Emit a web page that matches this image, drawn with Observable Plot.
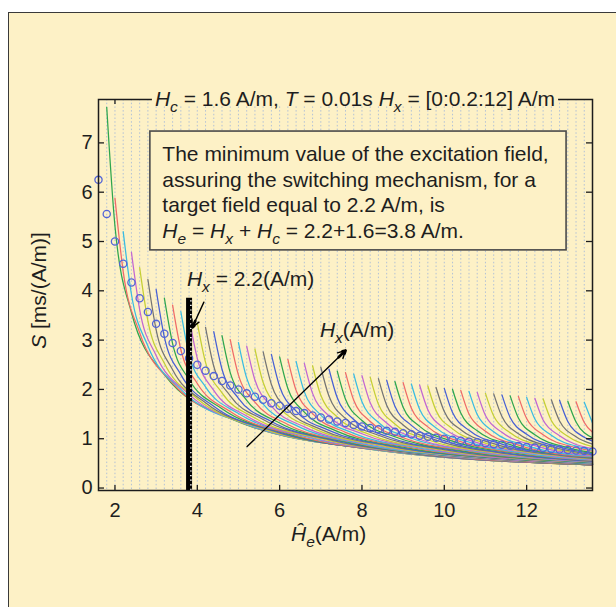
<!DOCTYPE html>
<html>
<head>
<meta charset="utf-8">
<script src="https://cdn.jsdelivr.net/npm/d3@7"></script>
<script src="https://cdn.jsdelivr.net/npm/@observablehq/plot@0.6"></script>
<style>
  html, body { margin: 0; padding: 0; background: #ffffff; overflow: hidden; }
  #panel { position: absolute; left: 8px; top: 12px; width: 700px; height: 700px;
           background: #fdf1c6; border: 1px solid #3a3a3a; }
  #chart { position: absolute; left: 0; top: 0; }
</style>
</head>
<body>
<div id="panel"></div>
<div id="chart"></div>
<script>
// ---- parameters of the simulated sensor ----
const HC = 1.6;            // coercive field, A/m
const HX_TARGET = 2.2;     // target field marked by the bar, A/m
const BAR_TOP = 3.85;      // height of the marker bar, ms/(A/m)

// target fields Hx = [0:0.2:12] A/m (one curve each; Hx = 12 lies beyond the axis)
const HX = [0, 0.2, 0.4, 0.6, 0.8, 1, 1.2, 1.4, 1.6, 1.8, 2, 2.2, 2.4, 2.6, 2.8, 3, 3.2, 3.4, 3.6, 3.8,
            4, 4.2, 4.4, 4.6, 4.8, 5, 5.2, 5.4, 5.6, 5.8, 6, 6.2, 6.4, 6.6, 6.8, 7, 7.2, 7.4, 7.6, 7.8,
            8, 8.2, 8.4, 8.6, 8.8, 9, 9.2, 9.4, 9.6, 9.8, 10, 10.2, 10.4, 10.6, 10.8, 11, 11.2, 11.4, 11.6, 11.8];

// sensitivity S of each curve sampled at He = Hx + Hc + offset
const OFFSETS = [0.2, 0.4, 0.8, 1.6, 3.2, 6.4];
const S_D02 = [7.72, 5.88, 5.20, 4.78, 4.47, 4.23, 4.03, 3.85, 3.71, 3.58,
               3.46, 3.35, 3.26, 3.17, 3.09, 3.01, 2.95, 2.88, 2.82, 2.76,
               2.71, 2.66, 2.61, 2.57, 2.53, 2.48, 2.45, 2.41, 2.37, 2.34,
               2.31, 2.28, 2.25, 2.22, 2.19, 2.16, 2.14, 2.11, 2.09, 2.07,
               2.04, 2.02, 2.00, 1.98, 1.96, 1.94, 1.92, 1.91, 1.89, 1.87,
               1.86, 1.84, 1.82, 1.81, 1.79, 1.78, 1.76, 1.75, 1.74, 1.72];
const S_D04 = [5.31, 4.39, 3.93, 3.62, 3.39, 3.21, 3.06, 2.93, 2.81, 2.71,
               2.63, 2.55, 2.47, 2.41, 2.34, 2.29, 2.23, 2.19, 2.14, 2.10,
               2.06, 2.02, 1.98, 1.95, 1.92, 1.88, 1.86, 1.83, 1.80, 1.78,
               1.75, 1.73, 1.70, 1.68, 1.66, 1.64, 1.62, 1.60, 1.59, 1.57,
               1.55, 1.53, 1.52, 1.50, 1.49, 1.47, 1.46, 1.45, 1.43, 1.42,
               1.41, 1.40, 1.38, 1.37, 1.36, 1.35, 1.34, 1.33, 1.32];
const S_D08 = [3.56, 3.15, 2.88, 2.69, 2.53, 2.40, 2.30, 2.20, 2.12, 2.05,
               1.98, 1.93, 1.87, 1.82, 1.78, 1.74, 1.70, 1.66, 1.63, 1.59,
               1.56, 1.54, 1.51, 1.48, 1.46, 1.44, 1.41, 1.39, 1.37, 1.35,
               1.33, 1.32, 1.30, 1.28, 1.27, 1.25, 1.24, 1.22, 1.21, 1.20,
               1.18, 1.17, 1.16, 1.15, 1.14, 1.13, 1.12, 1.10, 1.09, 1.08,
               1.08, 1.07, 1.06, 1.05, 1.04, 1.03, 1.02];
const S_D16 = [2.30, 2.13, 2.00, 1.90, 1.81, 1.73, 1.66, 1.61, 1.55, 1.51,
               1.46, 1.42, 1.39, 1.35, 1.32, 1.29, 1.27, 1.24, 1.22, 1.19,
               1.17, 1.15, 1.13, 1.11, 1.10, 1.08, 1.07, 1.05, 1.04, 1.02,
               1.01, 0.99, 0.98, 0.97, 0.96, 0.95, 0.94, 0.93, 0.92, 0.91,
               0.90, 0.89, 0.88, 0.87, 0.86, 0.86, 0.85, 0.84, 0.83, 0.82,
               0.82, 0.81, 0.80];
const S_D32 = [1.41, 1.35, 1.29, 1.25, 1.20, 1.17, 1.13, 1.10, 1.07, 1.05,
               1.02, 1.00, 0.98, 0.96, 0.94, 0.92, 0.90, 0.89, 0.87, 0.86,
               0.84, 0.83, 0.82, 0.81, 0.80, 0.79, 0.78, 0.77, 0.76, 0.75,
               0.74, 0.73, 0.72, 0.71, 0.70, 0.70, 0.69, 0.68, 0.68, 0.67,
               0.66, 0.66, 0.65, 0.64, 0.64];
const S_D64 = [0.81, 0.79, 0.77, 0.76, 0.74, 0.72, 0.71, 0.70, 0.68, 0.67,
               0.66, 0.65, 0.64, 0.63, 0.62, 0.61, 0.60, 0.59, 0.59, 0.58,
               0.57, 0.56, 0.56, 0.55, 0.54, 0.54, 0.53, 0.53, 0.52];
// value at the right end of the axis (null where the last sample already sits there)
const HE_END = 13.6;
const S_END = [0.47, 0.47, 0.47, 0.47, 0.47, 0.47, 0.47, 0.47, 0.47, 0.48,
               0.48, 0.48, 0.48, 0.48, 0.48, 0.48, 0.49, 0.49, 0.49, 0.49,
               0.49, 0.50, 0.50, 0.50, 0.51, 0.51, 0.51, 0.52, null, 0.53,
               0.53, 0.53, 0.54, 0.54, 0.55, 0.56, 0.56, 0.57, 0.58, 0.59,
               0.60, 0.61, 0.62, 0.63, null, 0.65, 0.67, 0.68, 0.70, 0.72,
               0.75, 0.77, null, 0.84, 0.89, 0.95, null, 1.13, null, null];

// reference sensitivity (circles) on the He grid
const HE_GRID = [1.6, 1.8, 2, 2.2, 2.4, 2.6, 2.8, 3, 3.2, 3.4, 3.6, 3.8, 4, 4.2, 4.4, 4.6, 4.8, 5, 5.2, 5.4,
                 5.6, 5.8, 6, 6.2, 6.4, 6.6, 6.8, 7, 7.2, 7.4, 7.6, 7.8, 8, 8.2, 8.4, 8.6, 8.8, 9, 9.2, 9.4,
                 9.6, 9.8, 10, 10.2, 10.4, 10.6, 10.8, 11, 11.2, 11.4, 11.6, 11.8, 12, 12.2, 12.4, 12.6, 12.8,
                 13, 13.2, 13.4, 13.6];
const S_CIRC = [6.25, 5.56, 5.00, 4.55, 4.17, 3.85, 3.57, 3.33, 3.13, 2.94,
                2.78, 2.63, 2.50, 2.38, 2.27, 2.17, 2.08, 2.00, 1.92, 1.85,
                1.79, 1.72, 1.67, 1.61, 1.56, 1.52, 1.47, 1.43, 1.39, 1.35,
                1.32, 1.28, 1.25, 1.22, 1.19, 1.16, 1.14, 1.11, 1.09, 1.06,
                1.04, 1.02, 1.00, 0.98, 0.96, 0.94, 0.93, 0.91, 0.89, 0.88,
                0.86, 0.85, 0.83, 0.82, 0.81, 0.79, 0.78, 0.77, 0.76, 0.75, 0.74];

const X_TICKS = [2, 4, 6, 8, 10, 12];
const Y_TICKS = [0, 1, 2, 3, 4, 5, 6, 7];

// annotation geometry (data units)
const ARROW_BAR = {x1: 4.16, y1: 3.77, x2: 3.88, y2: 3.26};
const ARROW_HX  = {x1: 5.21, y1: 0.84, x2: 7.60, y2: 2.79};
const NOTE_BOX  = {x1: 2.86, x2: 12.97, y1: 4.82, y2: 7.23};
const LABEL_BAR = {x: 3.76, y: 4.09};
const LABEL_HX  = {x: 6.99, y: 3.05};

// ---- styling ----
const FONT = "'Liberation Sans', Arial, Helvetica, sans-serif";
const CREAM = "#fdf1c6";
const INK = "#1e1e1e";
const LINE_COLORS = ["#2ea64e", "#ef6a68", "#38bce2", "#c266d2", "#c5cf34", "#747474", "#4760d4"];
const X_DOMAIN = [1.6, 13.6];
const Y_DOMAIN = [-0.05, 7.88];

// long table of curve samples
const S_BY_OFFSET = [S_D02, S_D04, S_D08, S_D16, S_D32, S_D64];
const curves = [];
HX.forEach((hx, k) => {
  S_BY_OFFSET.forEach((arr, j) => {
    if (k < arr.length) curves.push({k, he: +(HC + hx + OFFSETS[j]).toFixed(2), s: arr[k]});
  });
  if (S_END[k] != null) curves.push({k, he: HE_END, s: S_END[k]});
});
const circles = HE_GRID.map((he, i) => ({he, s: S_CIRC[i]}));

// short piece at the tip of each arrow, drawn heavier
const tip = (a, f) => ({x1: a.x2 - f * (a.x2 - a.x1), y1: a.y2 - f * (a.y2 - a.y1), x2: a.x2, y2: a.y2});

const W = 616, H = 607, ML = 98, MR = 24, MT = 99, MB = 117;
const innerW = W - ML - MR, innerH = H - MT - MB;

const plot = Plot.plot({
  width: W, height: H,
  marginLeft: ML, marginRight: MR, marginTop: MT, marginBottom: MB,
  style: {background: "transparent", fontFamily: FONT, fontSize: "20px", color: INK, overflow: "visible"},
  x: {domain: X_DOMAIN},
  y: {domain: Y_DOMAIN},
  marks: [
    // faint dotted columns on the He grid
    Plot.ruleX(HE_GRID, {stroke: "#aebfd8", strokeWidth: 1, strokeDasharray: "1.5,2.2", strokeOpacity: 0.95}),
    Plot.rect([NOTE_BOX], {x1: "x1", x2: "x2", y1: "y1", y2: "y2", fill: CREAM}),
    // S(He) for every Hx
    Plot.line(curves, {x: "he", y: "s", z: "k", stroke: d => LINE_COLORS[d.k % LINE_COLORS.length],
                       strokeWidth: 1.25, curve: "monotone-x"}),
    // reference curve as open circles
    Plot.dot(circles, {x: "he", y: "s", r: 3.6, stroke: "#5264d8", strokeWidth: 1.3, fill: "none"}),
    // minimum excitation He = Hx + Hc
    Plot.ruleX([HC + HX_TARGET], {y1: Y_DOMAIN[0], y2: BAR_TOP, stroke: "#000", strokeWidth: 6}),
    Plot.ruleX([HC + HX_TARGET], {y1: Y_DOMAIN[0], y2: BAR_TOP, stroke: "#fff", strokeWidth: 1.6, dx: 1.8,
                                  strokeDasharray: "1.2,3.4"}),
    // arrows
    Plot.arrow([ARROW_BAR, ARROW_HX], {x1: "x1", y1: "y1", x2: "x2", y2: "y2", stroke: "#000",
                                        strokeWidth: 1.4, headLength: 9, headAngle: 55}),
    Plot.arrow([tip(ARROW_BAR, 0.25), tip(ARROW_HX, 0.07)], {x1: "x1", y1: "y1", x2: "x2", y2: "y2",
                                        stroke: "#000", strokeWidth: 2.8, headLength: 9, headAngle: 55}),
    // frame with inward ticks on all four sides
    Plot.frame({stroke: "#1c1c1c", strokeWidth: 1.5}),
    Plot.tickX(X_TICKS, {x: d => d, stroke: "#1c1c1c", strokeWidth: 1.3, insetTop: innerH - 5}),
    Plot.tickX(X_TICKS, {x: d => d, stroke: "#1c1c1c", strokeWidth: 1.3, insetBottom: innerH - 5}),
    Plot.tickY(Y_TICKS, {y: d => d, stroke: "#1c1c1c", strokeWidth: 1.3, insetRight: innerW - 6}),
    Plot.tickY(Y_TICKS, {y: d => d, stroke: "#1c1c1c", strokeWidth: 1.3, insetLeft: innerW - 6}),
    Plot.axisX(X_TICKS, {anchor: "bottom", tickSize: 0, tickPadding: 12, fontSize: 20, label: null, fill: INK}),
    Plot.axisY(Y_TICKS, {anchor: "left", tickSize: 0, tickPadding: 6, fontSize: 20, label: null, fill: INK}),
    // note box outline
    Plot.rect([NOTE_BOX], {x1: "x1", x2: "x2", y1: "y1", y2: "y2", fill: "none", stroke: "#4a4a4a", strokeWidth: 1.6})
  ]
});

document.getElementById("chart").appendChild(plot);

// ---- rich text (italic symbols with subscripts) ----
const sx = plot.scale("x"), sy = plot.scale("y");
const svg = d3.select(plot);
const layer = svg.append("g").attr("font-family", FONT).attr("fill", INK);

function rich(x, y, runs, size, anchor = "start", parent = layer) {
  const t = parent.append("text").attr("x", x).attr("y", y).style("font-size", size + "px").attr("text-anchor", anchor);
  let down = false;
  for (const r of runs) {
    const s = t.append("tspan").text(r.t);
    if (r.i) s.attr("font-style", "italic");
    if (r.sub) { s.style("font-size", (size * 0.74) + "px").attr("dy", size * 0.27); down = true; }
    else if (down) { s.attr("dy", -size * 0.27); down = false; }
  }
  return t;
}
const I = t => ({t, i: true});
const SUB = t => ({t, i: true, sub: true});
const R = t => ({t});

// title sitting on the top edge of the frame (its backing hides the frame line and top ticks)
const titleG = layer.append("g");
const title = rich(355, MT + 7, [I("H"), SUB("c"), R(" = 1.6 A/m, "), I("T"), R(" = 0.01s "),
                                 I("H"), SUB("x"), R(" = [0:0.2:12] A/m")], 21, "middle", titleG);
const tb = title.node().getBBox();
titleG.insert("rect", "text").attr("x", tb.x - 3).attr("y", MT - 5).attr("width", tb.width + 6)
      .attr("height", 12).attr("fill", CREAM);

// note text
const bx = sx.apply(NOTE_BOX.x1) + 12.5, by = sy.apply(NOTE_BOX.y2);
rich(bx, by + 30, [R("The minimum value of the excitation field,")], 21);
rich(bx, by + 55.7, [R("assuring the switching mechanism, for a")], 21);
rich(bx, by + 81.3, [R("target field equal to 2.2 A/m, is")], 21);
rich(bx, by + 107, [I("H"), SUB("e"), R(" = "), I("H"), SUB("x"), R(" + "), I("H"), SUB("c"),
                    R(" = 2.2+1.6=3.8 A/m.")], 21);

// in-plot labels
rich(sx.apply(LABEL_BAR.x), sy.apply(LABEL_BAR.y), [I("H"), SUB("x"), R(" = 2.2(A/m)")], 21);
rich(sx.apply(LABEL_HX.x), sy.apply(LABEL_HX.y), [I("H"), SUB("x"), R("(A/m)")], 21);

// axis titles
rich(291, 541, [I("\u0124"), SUB("e"), R("(A/m)")], 21);
const yl = layer.append("g").attr("transform", `translate(46,${(MT + H - MB) / 2 - 4}) rotate(-90)`);
rich(0, 0, [I("S"), R(" [ms/(A/m)]")], 21, "middle", yl);
</script>
</body>
</html>
